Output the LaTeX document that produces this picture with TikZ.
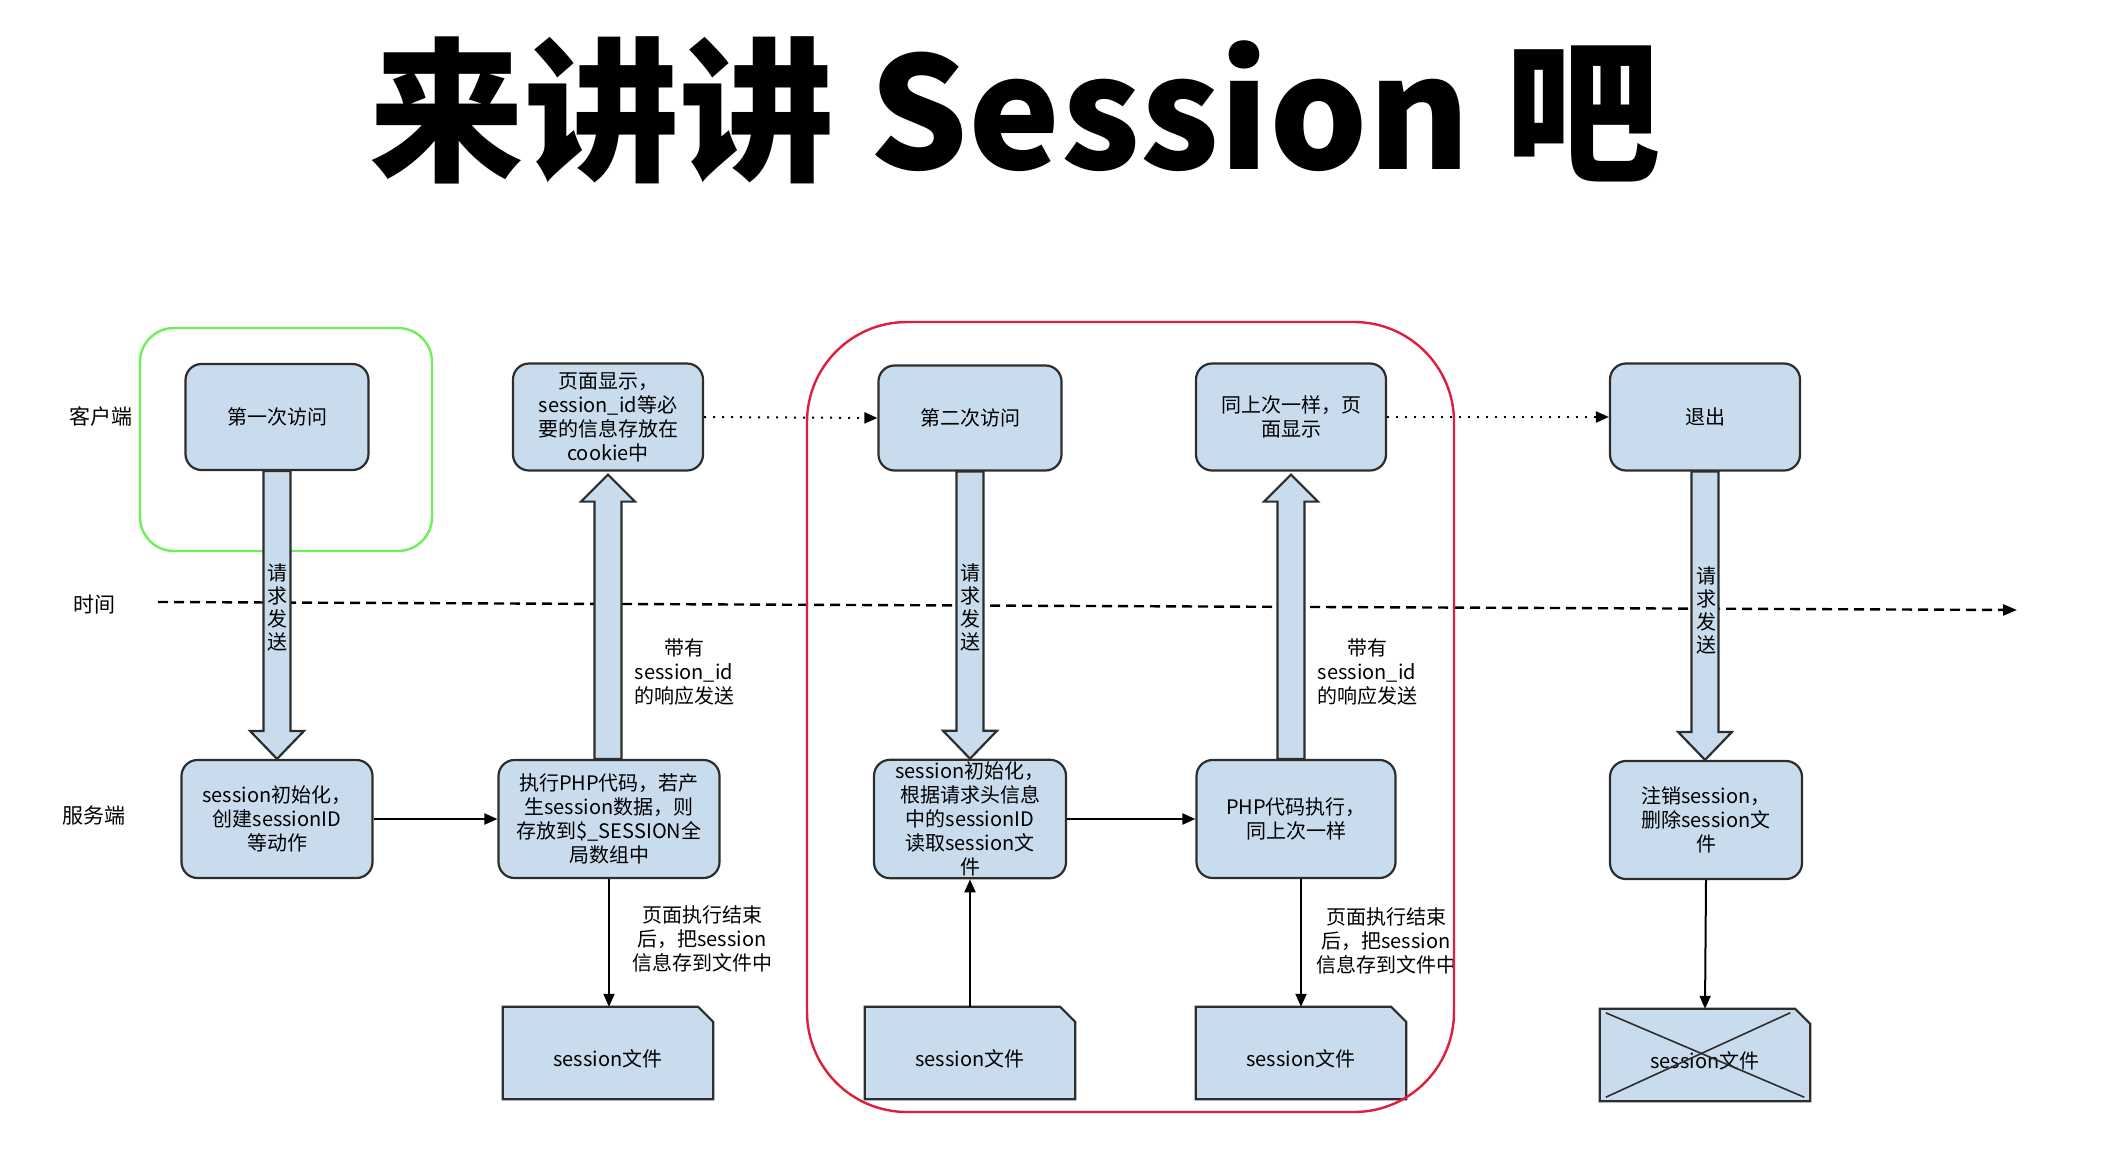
\documentclass[tikz,border=0pt]{standalone}
\usepackage{fontspec}
\setmainfont{Noto Sans CJK SC}
\usetikzlibrary{arrows.meta,calc,backgrounds}
\definecolor{boxblue}{RGB}{201,220,238}
\definecolor{boxline}{RGB}{45,45,45}
\definecolor{greenln}{RGB}{110,240,90}
\definecolor{redln}{RGB}{222,30,60}
\tikzset{
  rbox/.style={draw=boxline, line width=2.2pt, fill=boxblue, rounded corners=16pt,
    align=center, font=\fontsize{20pt}{24pt}\selectfont, inner sep=2pt},
  filebox/.style={align=center, font=\fontsize{20pt}{24pt}\selectfont,
    minimum width=210pt, minimum height=92pt, inner sep=0pt, text height=27pt, text depth=0pt},
  filshape/.style={draw=boxline, line width=2.2pt, fill=boxblue},
  conn/.style={line width=2pt, -{Triangle[length=13pt,width=11pt]}},
  dotconn/.style={line width=2pt, dash pattern=on 2pt off 7pt, -{Triangle[length=13pt,width=11pt]}},
  fatarr/.style={draw=boxline, line width=2.2pt, fill=boxblue, line join=miter},
  sidelabel/.style={font=\fontsize{21pt}{24pt}\selectfont},
  notelabel/.style={align=center, font=\fontsize{20pt}{24pt}\selectfont},
  vtext/.style={align=center, font=\fontsize{20pt}{23pt}\selectfont, inner sep=0pt},
  timeln/.style={line width=2.4pt, dash pattern=on 10pt off 6pt, -{Triangle[length=14pt,width=11pt]}},
}
\newcommand\fatdown[2]{%
  \draw[fatarr] let \p1=(#1.south), \p2=(#2.north) in
    (\x1-13.5pt,\y1) -- (\x1+13.5pt,\y1) -- (\x1+13.5pt,\y2+28pt) -- (\x1+27pt,\y2+28pt)
    -- (\x1,\y2) -- (\x1-27pt,\y2+28pt) -- (\x1-13.5pt,\y2+28pt) -- cycle;}
\newcommand\fatup[2]{%
  \draw[fatarr] let \p1=(#1.north), \p2=(#2.south) in
    (\x2-13.5pt,\y1) -- (\x2+13.5pt,\y1) -- (\x2+13.5pt,\y2-30pt) -- (\x2+27pt,\y2-30pt)
    -- (\x2,\y2-3pt) -- (\x2-27pt,\y2-30pt) -- (\x2-13.5pt,\y2-30pt) -- cycle;}
\begin{document}
\begin{tikzpicture}[x=1pt,y=-1pt]
\useasboundingbox (0,0) rectangle (2116,1170);

% title
\node (title) at (1015,110) {\fontsize{155pt}{160pt}\selectfont\bfseries 来讲讲 Session 吧};

% side labels
\node[sidelabel] (lclient) at (101,416) {客户端};
\node[sidelabel] (ltime) at (94,605) {时间};
\node[sidelabel] (lserver) at (94,816) {服务端};

% time line
\coordinate (t0) at (158,602);
\coordinate (t1) at (2017,610);
\draw[timeln] (t0) -- (t1);

% green region
\draw[greenln, line width=2.4pt, rounded corners=34pt] (140,328) rectangle (432,551);

% client row
\node[rbox, minimum width=183pt, minimum height=106pt] (c1) at (277,417) {第一次访问};
\node[rbox, minimum width=190pt, minimum height=107pt] (c2) at (608,417) {页面显示，\\session\_id等必\\要的信息存放在\\cookie中};
\node[rbox, minimum width=183pt, minimum height=105pt] (c3) at (970,418) {第二次访问};
\node[rbox, minimum width=190pt, minimum height=107pt] (c4) at (1291,417) {同上次一样，页\\面显示};
\node[rbox, minimum width=190pt, minimum height=107pt] (c5) at (1705,417) {退出};

% server row
\node[rbox, minimum width=191pt, minimum height=118pt] (s1) at (277,819) {session初始化，\\创建sessionID\\等动作};
\node[rbox, minimum width=221pt, minimum height=118pt] (s2) at (609,819) {执行PHP代码，若产\\生session数据，则\\存放到\$\_SESSION全\\局数组中};
\node[rbox, minimum width=192pt, minimum height=118pt] (s3) at (970,819) {session初始化，\\根据请求头信息\\中的sessionID\\读取session文\\件};
\node[rbox, minimum width=199pt, minimum height=118pt] (s4) at (1296,819) {PHP代码执行，\\同上次一样};
\node[rbox, minimum width=192pt, minimum height=118pt] (s5) at (1706,820) {注销session，\\删除session文\\件};

% session files
\node[filebox] (f1) at (608,1053) {session文件};
\node[filebox] (f2) at (970,1053) {session文件};
\node[filebox] (f3) at (1301,1053) {session文件};
\node[filebox] (f4) at (1705,1055) {session文件};
\begin{scope}[on background layer]
  \foreach \n in {f1,f2,f3,f4}
    \draw[filshape] (\n.south west) -- (\n.north west) -- ([xshift=-15pt]\n.north east)
      -- ([yshift=-15pt]\n.north east) -- (\n.south east) -- cycle;
\end{scope}
\draw[line width=1.6pt, boxline] ([shift={(6pt,-4pt)}]f4.north west) -- ([shift={(-6pt,4pt)}]f4.south east);
\draw[line width=1.6pt, boxline] ([shift={(6pt,4pt)}]f4.south west) -- ([shift={(-20pt,-4pt)}]f4.north east);

% fat arrows
\fatdown{c1}{s1}
\fatup{s2}{c2}
\fatdown{c3}{s3}
\fatup{s4}{c4}
\fatdown{c5}{s5}
\node[vtext] (v1) at (277,607) {请\\求\\发\\送};
\node[vtext] (v3) at (970,607) {请\\求\\发\\送};
\node[vtext] (v5) at (1706,610) {请\\求\\发\\送};

% connectors
\draw[conn] (s1.east) -- (s2.west);
\draw[conn] (s3.east) -- (s4.west);
\draw[conn] (s2.south) -- (s2.south |- f1.north);
\draw[conn] (f2.north) -- (s3.south);
\draw[conn] (f3.north |- s4.south) -- (f3.north);
\draw[conn] (s5.south) -- (f4.north);
\draw[dotconn] (c2.east) -- (c3.west);
\draw[dotconn] (c4.east) -- (c5.west);

% labels
\node[notelabel] (n1) at (684,672) {带有\\session\_id\\的响应发送};
\node[notelabel] (n2) at (1367,672) {带有\\session\_id\\的响应发送};
\node[notelabel] (n3) at (702,939) {页面执行结束\\后，把session\\信息存到文件中};
\node[notelabel] (n4) at (1386,941) {页面执行结束\\后，把session\\信息存到文件中};

% red region
\draw[redln, line width=2.4pt, rounded corners=100pt] (807,322) rectangle (1454,1112);
\end{tikzpicture}
\end{document}
